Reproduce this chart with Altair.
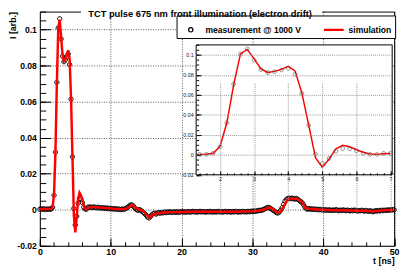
import altair as alt
import pandas as pd

TITLE = "TCT pulse 675 nm front illumination (electron drift)"
SERIES = ["measurement @ 1000 V", "simulation"]
X_TITLE = "t [ns]"
Y_TITLE = "I [arb.]"

X_DOMAIN = [0, 50]
Y_DOMAIN = [-0.02, 0.11]
X_TICKS = [0, 10, 20, 30, 40, 50]
Y_TICKS = [-0.02, 0, 0.02, 0.04, 0.06, 0.08, 0.1]
X_MINOR = [round(2 * k, 1) for k in range(26)]
Y_MINOR = [round(-0.02 + 0.005 * k, 3) for k in range(27)]

INSET_X_DOMAIN = [1.3, 7.05]
INSET_Y_DOMAIN = [-0.02, 0.11]
INSET_X_TICKS = [2, 3, 4, 5, 6, 7]
INSET_X_MINOR = [round(1.4 + 0.2 * k, 1) for k in range(29)]

# measurement, sampled every 0.2 ns from 0 to 50 ns
meas_t = [round(0.2 * k, 1) for k in range(251)]
meas_i = [
    0.0003, 0.0006, 0.0002, 0.0005, 0.0001, 0.0004, 0.0003,
    0.0004, 0.0004, 0.0014, 0.0080, 0.0320, 0.0707, 0.1010, 0.1060, 0.0948, 0.0852,
    0.0822, 0.0832, 0.0849, 0.0865, 0.0806, 0.0614, 0.0294, 0.0007, -0.0085, -0.0036,
    0.0037, 0.0063, 0.0060, 0.0040, 0.0014, 0.0004, 0.0004, 0.0014, 0.0014,
    0.0015, 0.0012, 0.0016, 0.0013, 0.0011, 0.0014, 0.0010, 0.0012, 0.0009, 0.0011,
    0.0008, 0.0010, 0.0006, 0.0009, 0.0005, 0.0007, 0.0004, 0.0006, 0.0003, 0.0005,
    0.0003, 0.0001, 0.0004, 0.0002, 0.0005, 0.0008, 0.0014, 0.0021, 0.0026, 0.0027,
    0.0020, 0.0010, 0.0002, -0.0003, 0.0001, -0.0002, -0.0008, -0.0015, -0.0022, -0.0030,
    -0.0040, -0.0045, -0.0038, -0.0028, -0.0022, -0.0019, -0.0024, -0.0018, -0.0016, -0.0019,
    -0.0015, -0.0017, -0.0013, -0.0016, -0.0012, -0.0014, -0.0011, -0.0015, -0.0013, -0.0012,
    -0.0014, -0.0011, -0.0015, -0.0012, -0.0010, -0.0013, -0.0011, -0.0014, -0.0012, -0.0010,
    -0.0013, -0.0011, -0.0009, -0.0012, -0.0010, -0.0013, -0.0011, -0.0009, -0.0012, -0.0010,
    -0.0011, -0.0013, -0.0010, -0.0012, -0.0009, -0.0011, -0.0013, -0.0010, -0.0012, -0.0011,
    -0.0009, -0.0012, -0.0010, -0.0013, -0.0011, -0.0009, -0.0012, -0.0010, -0.0011, -0.0013,
    -0.0010, -0.0012, -0.0009, -0.0011, -0.0013, -0.0010, -0.0012, -0.0009, -0.0011, -0.0010,
    -0.0012, -0.0009, -0.0011, -0.0008, -0.0010, -0.0007, -0.0009, -0.0006, -0.0005, -0.0003,
    -0.0004, -0.0001, 0.0002, 0.0006, 0.0010, 0.0013, 0.0012, 0.0006, 0.0001, -0.0004,
    -0.0010, -0.0016, -0.0018, -0.0012, -0.0002, 0.0012, 0.0030, 0.0048, 0.0058, 0.0062,
    0.0064, 0.0061, 0.0065, 0.0062, 0.0059, 0.0063, 0.0058, 0.0052, 0.0046, 0.0040,
    0.0028, 0.0015, 0.0006, 0.0004, 0.0006, 0.0003, 0.0005, 0.0002, 0.0004, 0.0001,
    0.0003, 0.0000, 0.0002, -0.0001, 0.0001, -0.0002, 0.0000, -0.0003, -0.0001, -0.0002,
    -0.0004, -0.0001, -0.0003, 0.0000, -0.0002, -0.0005, -0.0002, -0.0004, -0.0001, -0.0003,
    -0.0005, -0.0002, -0.0004, -0.0006, -0.0003, -0.0005, -0.0002, -0.0004, -0.0007, -0.0004,
    -0.0006, -0.0003, -0.0005, -0.0008, -0.0004, -0.0006, -0.0009, -0.0005, -0.0008, -0.0011,
    -0.0008, -0.0005, -0.0007, -0.0004, -0.0006, -0.0003, -0.0005, -0.0002, -0.0004, -0.0001,
    -0.0003, 0.0000, -0.0002, 0.0001, 0.0000,
]

# simulation: 0.2 ns steps up to 7 ns, then 0.5 ns steps
sim_t = [round(0.2 * k, 1) for k in range(36)] + [7.5 + 0.5 * k for k in range(86)]
sim_i = [
    0.0003, 0.0003, 0.0004, 0.0004, 0.0003, 0.0004, 0.0004,
    0.0004, 0.0006, 0.0015, 0.0085, 0.0320, 0.0700, 0.1010, 0.1055, 0.0960, 0.0860,
    0.0825, 0.0835, 0.0855, 0.0885, 0.0840, 0.0620, 0.0300, -0.0030, -0.0126, -0.0042,
    0.0060, 0.0095, 0.0080, 0.0050, 0.0025, 0.0008, 0.0004, 0.0010, 0.0012,
    0.0016, 0.0014, 0.0012, 0.0011, 0.0009, 0.0007, 0.0005, 0.0004, 0.0003, 0.0004,
    0.0012, 0.0026, 0.0012, 0.0000, -0.0003, -0.0025, -0.0044, -0.0026, -0.0021, -0.0018,
    -0.0015, -0.0014, -0.0013, -0.0013, -0.0012, -0.0012, -0.0012, -0.0011, -0.0011, -0.0011,
    -0.0011, -0.0011, -0.0011, -0.0011, -0.0011, -0.0011, -0.0011, -0.0011, -0.0011, -0.0011,
    -0.0011, -0.0011, -0.0010, -0.0010, -0.0009, -0.0008, -0.0006, -0.0004, -0.0001, 0.0008,
    0.0012, 0.0001, -0.0015, -0.0010, 0.0025, 0.0058, 0.0063, 0.0062, 0.0058, 0.0042,
    0.0010, 0.0005, 0.0004, 0.0002, 0.0001, 0.0000, -0.0001, -0.0002, -0.0002, -0.0003,
    -0.0003, -0.0003, -0.0004, -0.0004, -0.0005, -0.0005, -0.0005, -0.0006, -0.0006, -0.0009,
    -0.0006, -0.0005, -0.0003, -0.0002, -0.0001, 0.0000,
]

meas = pd.DataFrame({"t": meas_t, "i": meas_i, "series": SERIES[0]})
sim = pd.DataFrame({"t": sim_t, "i": sim_i, "series": SERIES[1]})
meas_in = meas[(meas.t >= INSET_X_DOMAIN[0]) & (meas.t <= INSET_X_DOMAIN[1])]
sim_in = sim[(sim.t >= INSET_X_DOMAIN[0]) & (sim.t <= INSET_X_DOMAIN[1])]
box = pd.DataFrame({"t": [INSET_X_DOMAIN[0]], "t2": [INSET_X_DOMAIN[1]],
                    "i": [INSET_Y_DOMAIN[0]], "i2": [INSET_Y_DOMAIN[1]]})

# layout (pixels)
W, H = 361.5, 239
IN_L, IN_R, IN_B, IN_T = 159.5, 359.5, 166.5, 34
FONT = "Liberation Sans"
CIRCLE = "M -0.22 0 A 0.22 0.22 0 1 0 0.22 0 A 0.22 0.22 0 1 0 -0.22 0 Z"
SMALL_CIRCLE = "M -0.19 0 A 0.19 0.19 0 1 0 0.19 0 A 0.19 0.19 0 1 0 -0.19 0 Z"
LINE = "M -1 -0.06 L 1 -0.06 M -1 0.06 L 1 0.06"
LABEL_EXPR = "'' + datum.value"

main_x = alt.Scale(domain=X_DOMAIN, nice=False, zero=False)
main_y = alt.Scale(domain=Y_DOMAIN, nice=False, zero=False)
inset_x = alt.Scale(domain=INSET_X_DOMAIN, range=[IN_L, IN_R], nice=False, zero=False)
inset_y = alt.Scale(domain=INSET_Y_DOMAIN, range=[IN_B, IN_T], nice=False, zero=False)

legend = alt.Legend(
    title=None, orient="none", legendX=139.5, legendY=4, direction="horizontal",
    columns=2, columnPadding=20, symbolSize=400, symbolStrokeWidth=1.2,
    labelFont=FONT, labelFontSize=8.7, labelFontWeight="bold", labelColor="black",
    labelOffset=4, padding=3.5, fillColor="white", strokeColor="black",
)
color = alt.Color("series:N", scale=alt.Scale(domain=SERIES, range=["black", "#ff0000"]), legend=legend)
shape = alt.Shape("series:N", scale=alt.Scale(domain=SERIES, range=[CIRCLE, LINE]), legend=legend)

main_x_axis = alt.Axis(
    orient="bottom", values=X_TICKS, ticks=False, domain=True, domainColor="black",
    grid=True, gridDash=[1, 1.5], gridColor="#555", labelFontWeight="bold", labelFontSize=9,
    labelPadding=2, labelFlush=False, labelOverlap=False, title=X_TITLE, titleFontSize=9,
    titleFontWeight="bold", titleAlign="right", titleBaseline="middle", titleX=W, titleY=15.5,
)
main_y_axis = alt.Axis(
    orient="left", values=Y_TICKS, ticks=False, domain=True, domainColor="black",
    grid=True, gridDash=[1, 1.5], gridColor="#555", labelFontWeight="bold", labelFontSize=8.8,
    labelPadding=3.5, labelExpr=LABEL_EXPR, labelOverlap=False, title=Y_TITLE, titleFontSize=9,
    titleFontWeight="bold", titleAngle=270, titleAlign="right", titleBaseline="middle",
    titleX=-27.5, titleY=0,
)

points = alt.Chart(meas).mark_point(size=400, strokeWidth=1, filled=False, opacity=1).encode(
    x=alt.X("t:Q", scale=main_x, axis=main_x_axis),
    y=alt.Y("i:Q", scale=main_y, axis=main_y_axis),
    color=color, shape=shape,
)
line = alt.Chart(sim).mark_line(strokeWidth=2.5).encode(
    x=alt.X("t:Q", scale=main_x, axis=main_x_axis),
    y=alt.Y("i:Q", scale=main_y, axis=main_y_axis),
    color=color,
)
main = alt.layer(points, line)


def tick_layer(xs, ys, xvals, yvals, xlen, ylen, xoff, yoff, z=0):
    return alt.Chart(meas).mark_point(opacity=0).encode(
        x=alt.X("t:Q", scale=xs, axis=alt.Axis(
            orient="top", offset=xoff, values=xvals, tickSize=xlen, tickColor="black",
            labels=False, domain=False, grid=False, title=None, zindex=z)),
        y=alt.Y("i:Q", scale=ys, axis=alt.Axis(
            orient="right", offset=yoff, values=yvals, tickSize=ylen, tickColor="black",
            labels=False, domain=False, grid=False, title=None, zindex=z)),
    )


major = tick_layer(main_x, main_y, X_TICKS, Y_TICKS, 8, 11, -H, -W)
minor = tick_layer(main_x, main_y, X_MINOR, Y_MINOR, 4, 6, -H, -W)

frame = alt.Chart(meas).mark_point(opacity=0).encode(
    x=alt.X("t:Q", scale=main_x, axis=alt.Axis(
        orient="top", domain=True, domainColor="black", domainDash=[41.5, 246, 80],
        ticks=False, labels=False, grid=False, title=None)),
    y=alt.Y("i:Q", scale=main_y, axis=alt.Axis(
        orient="right", domain=True, domainColor="black",
        ticks=False, labels=False, grid=False, title=None)),
)

inset_x_axis = alt.Axis(
    orient="bottom", offset=-(H - IN_B), values=INSET_X_TICKS, ticks=False, domain=False,
    grid=True, gridDash=[1, 1], gridColor="#999", labelFontSize=5.5, labelColor="#222",
    labelPadding=2, labelFlush=False, labelOverlap=False, title=None, zindex=1,
)
inset_y_axis = alt.Axis(
    orient="left", offset=-IN_L, values=Y_TICKS, ticks=False, domain=False,
    grid=True, gridDash=[1, 1], gridColor="#999", labelFontSize=5.5, labelColor="#222",
    labelPadding=3, labelExpr=LABEL_EXPR, labelOverlap=False, title=None, zindex=1,
)
inset_box = alt.Chart(box).mark_rect(fill="white", stroke="black", strokeWidth=1).encode(
    x=alt.X("t:Q", scale=inset_x, axis=inset_x_axis), x2="t2",
    y=alt.Y("i:Q", scale=inset_y, axis=inset_y_axis), y2="i2",
)
inset_line = alt.Chart(sim_in).mark_line(color="#ff0000", strokeWidth=1.5).encode(
    x=alt.X("t:Q", scale=inset_x, axis=inset_x_axis),
    y=alt.Y("i:Q", scale=inset_y, axis=inset_y_axis),
)
inset_pts = alt.Chart(meas_in).mark_point(shape=SMALL_CIRCLE, size=400, color="#444",
                                          strokeWidth=0.9, filled=False).encode(
    x=alt.X("t:Q", scale=inset_x, axis=inset_x_axis),
    y=alt.Y("i:Q", scale=inset_y, axis=inset_y_axis),
)
inset = alt.layer(inset_box, inset_line, inset_pts)
inset_major = tick_layer(inset_x, inset_y, INSET_X_TICKS, Y_TICKS, 4, 5, -IN_B, IN_L - W, 1)
inset_minor = tick_layer(inset_x, inset_y, INSET_X_MINOR, Y_MINOR, 2, 2.5, -IN_B, IN_L - W, 1)

chart = alt.layer(
    main, major, minor, frame, inset, inset_major, inset_minor
).resolve_scale(
    x="independent", y="independent"
).properties(
    width=W, height=H, autosize="none",
    padding={"left": 32.5, "top": 1, "right": 7, "bottom": 20},
    title=alt.TitleParams(TITLE, anchor="middle", frame="group", dx=-17.25, offset=-8,
                          fontSize=9.5, fontWeight="bold", font=FONT, color="black"),
    background="white",
).configure_view(
    strokeWidth=0
).configure_axis(
    labelFont=FONT, titleFont=FONT, labelColor="black", titleColor="black", tickColor="black"
)

chart.save("out.html", embed_options={"renderer": "svg", "actions": False})
